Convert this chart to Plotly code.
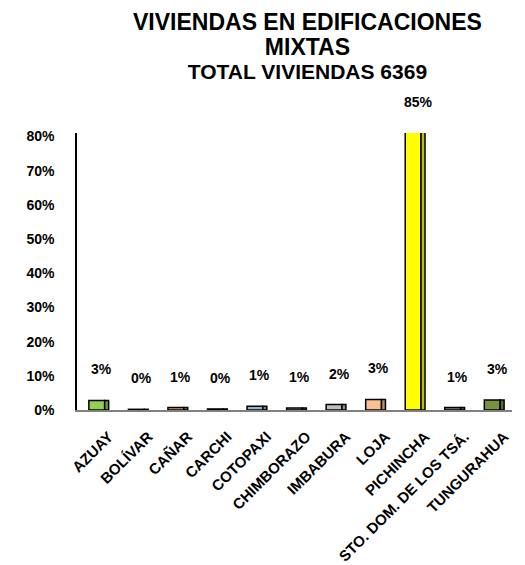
import plotly.graph_objects as go

categories = ["AZUAY", "BOLÍVAR", "CAÑAR", "CARCHI", "COTOPAXI", "CHIMBORAZO",
              "IMBABURA", "LOJA", "PICHINCHA", "STO. DOM. DE LOS TSÁ.", "TUNGURAHUA"]
values = [0.028, 0.002, 0.007, 0.003, 0.011, 0.006, 0.016, 0.031, 0.853, 0.007, 0.029]
front_colors = ["#92D050", "#C00000", "#D9A07A", "#00803F", "#95B3D7", "#8EA9B8",
                "#BFBFBF", "#FAC090", "#FFFF00", "#808080", "#77933C"]
side_colors = ["#6E9C3C", "#900000", "#A37A5C", "#00602F", "#7088A2", "#6A808C",
               "#8F8F8F", "#BC9068", "#BFBF00", "#606060", "#59702D"]
y_ticks = [0, 0.1, 0.2, 0.3, 0.4, 0.5, 0.6, 0.7, 0.8]
y_max = 0.81
title_lines = ["VIVIENDAS EN EDIFICACIONES", "MIXTAS", "TOTAL VIVIENDAS 6369"]

FONT = "Liberation Sans, Arial, sans-serif"
PLOT_TOP, PLOT_BOTTOM = 133, 410

fig = go.Figure()
fig.add_trace(go.Bar(
    x=categories, y=values, width=0.4, offset=-0.2,
    marker=dict(color=front_colors, line=dict(color="black", width=1.5)),
    hoverinfo="x+y", showlegend=False,
))
fig.add_trace(go.Bar(
    x=categories, y=values, width=0.1, offset=0.2,
    marker=dict(color=side_colors, line=dict(color="black", width=1.5)),
    hoverinfo="skip", showlegend=False,
))

for c, v in zip(categories, values):
    fig.add_annotation(
        x=c, y=min(v, y_max), text=f"{round(v*100):d}%", showarrow=False,
        yanchor="bottom", yshift=21, xshift=5,
        font=dict(family=FONT, size=14, color="black", weight="bold"),
    )

title_text = (
    f"<span style='font-size:23px'>{title_lines[0]}</span><br>"
    f"<span style='font-size:23px'>{title_lines[1]}</span><br>"
    f"<span style='font-size:21px'>{title_lines[2]}</span>"
)
fig.add_annotation(
    xref="paper", yref="paper", x=0.529,
    y=(PLOT_BOTTOM - 7) / (PLOT_BOTTOM - PLOT_TOP),
    xanchor="center", yanchor="top", showarrow=False, text=title_text,
    align="center",
    font=dict(family=FONT, size=19, color="black", weight="bold"),
)

fig.update_layout(
    width=525, height=565,
    margin=dict(l=77, r=13, t=PLOT_TOP, b=565 - PLOT_BOTTOM),
    plot_bgcolor="white", paper_bgcolor="white",
    barmode="overlay",
    font=dict(family=FONT, color="black"),
)
fig.update_xaxes(
    tickangle=-45, showline=True, linecolor="#808080", linewidth=2,
    tickfont=dict(family=FONT, size=15, color="black", weight="bold"),
    showgrid=False, ticks="", automargin=False, ticklabelshift=12,
    ticklabelstandoff=10,
)
fig.update_yaxes(
    range=[0, y_max], tickvals=y_ticks, tickformat=".0%",
    showline=True, linecolor="black", linewidth=1.5, showgrid=False,
    tickfont=dict(family=FONT, size=14, color="black", weight="bold"),
    ticks="", ticklabelstandoff=18, zeroline=False, automargin=False,
)

fig.write_html("out.html", config={"displayModeBar": False},
               post_script="document.body.style.margin='0';")
